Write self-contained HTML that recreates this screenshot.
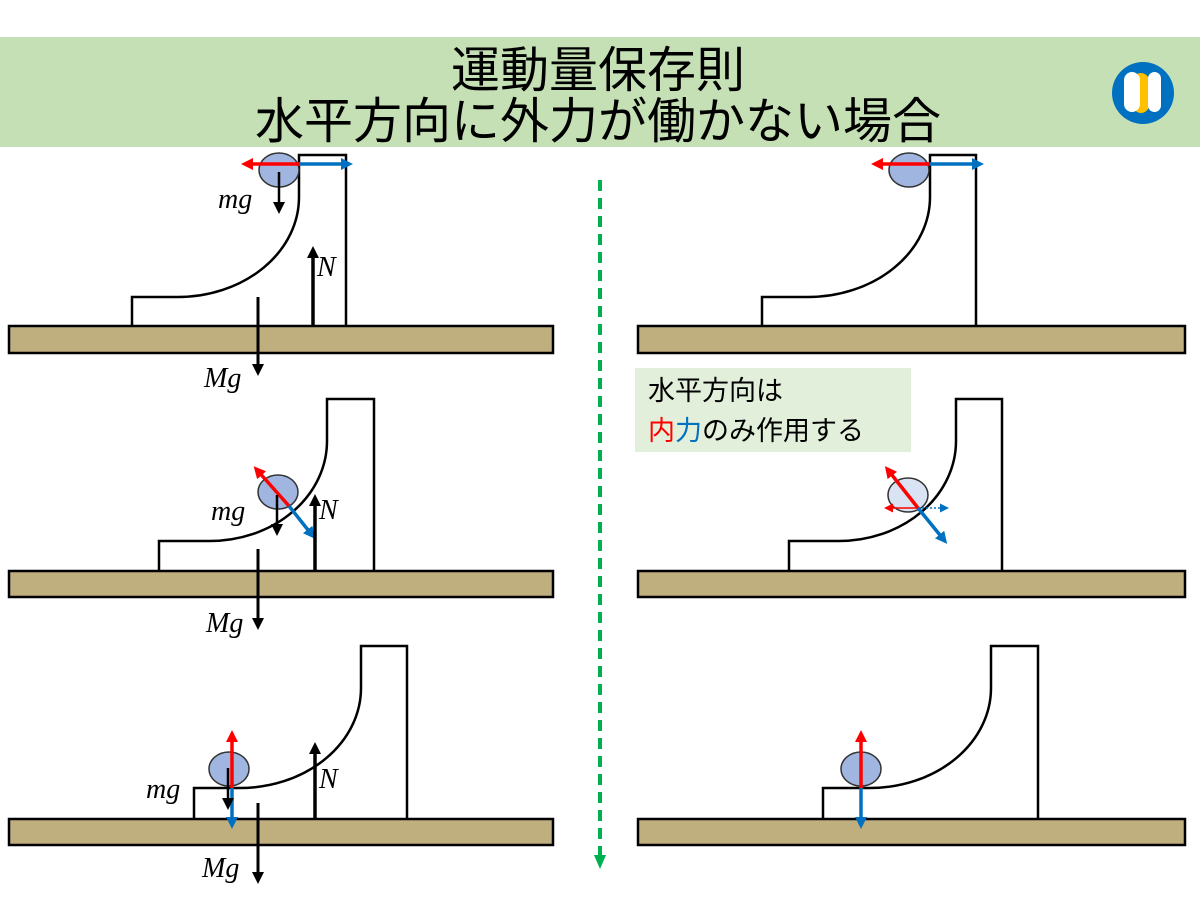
<!DOCTYPE html>
<html><head><meta charset="utf-8"><style>
html,body{margin:0;padding:0;background:#fff}
svg{display:block}
.t{font-family:"Liberation Sans","Noto Sans CJK JP",sans-serif}
.m{font-family:"Liberation Serif",serif;font-style:italic;font-size:28px}
</style></head><body>
<svg width="1200" height="900" viewBox="0 0 1200 900" xmlns="http://www.w3.org/2000/svg">
<defs>
<marker id="ak" markerWidth="12" markerHeight="12" refX="6" refY="6" orient="auto" markerUnits="userSpaceOnUse"><path d="M0,0 L12,6 L0,12 Z" fill="#000"/></marker>
<marker id="ar" markerWidth="12" markerHeight="12" refX="7" refY="6" orient="auto" markerUnits="userSpaceOnUse"><path d="M0,0 L12,6 L0,12 Z" fill="#ff0000"/></marker>
<marker id="ab" markerWidth="12" markerHeight="12" refX="7" refY="6" orient="auto" markerUnits="userSpaceOnUse"><path d="M0,0 L12,6 L0,12 Z" fill="#0070c0"/></marker>
<marker id="ars" markerWidth="9" markerHeight="9" refX="5" refY="4.5" orient="auto" markerUnits="userSpaceOnUse"><path d="M0,0 L9,4.5 L0,9 Z" fill="#ff0000"/></marker>
<marker id="abs" markerWidth="9" markerHeight="9" refX="5" refY="4.5" orient="auto" markerUnits="userSpaceOnUse"><path d="M0,0 L9,4.5 L0,9 Z" fill="#0070c0"/></marker>
<marker id="ag" markerWidth="14" markerHeight="12" refX="7" refY="6" orient="auto" markerUnits="userSpaceOnUse"><path d="M0,0 L14,6 L0,12 Z" fill="#00b050"/></marker>
</defs>
<rect x="0" y="37" width="1200" height="110" fill="#c5e0b4"/>
<text class="t" x="598" y="87" font-size="49" font-weight="normal" text-anchor="middle" fill="#000">運動量保存則</text>
<text class="t" x="598" y="138" font-size="49" font-weight="normal" text-anchor="middle" fill="#000">水平方向に外力が働かない場合</text>
<circle cx="1143" cy="93" r="31" fill="#0070c0"/>
<rect x="1133" y="73" width="16" height="40" rx="8" fill="#ffc000"/>
<rect x="1124" y="72" width="16" height="40" rx="8" fill="#fff"/>
<rect x="1148" y="72" width="13" height="40" rx="6.5" fill="#fff"/>

<g fill="#bfae7e" stroke="#000" stroke-width="2.5">
<rect x="9" y="326" width="544" height="27"/><rect x="9" y="571" width="544" height="26"/><rect x="9" y="819" width="544" height="26"/>
<rect x="638" y="326" width="547" height="27"/><rect x="638" y="571" width="547" height="26"/><rect x="638" y="819" width="547" height="26"/>
</g>
<g fill="none" stroke="#000" stroke-width="2.5">
<path d="M132,326 V297 H178 A121 100 0 0 0 299,197 V155 H346 V326"/>
<path d="M159,571 V541 H210 A117 100 0 0 0 327,441 V399 H374 V571"/>
<path d="M194,819 V788 H240 A121 100 0 0 0 361,688 V646 H407 V819"/>
<path d="M762,326 V297 H808 A122 100 0 0 0 930,197 V155 H976 V326"/>
<path d="M789,571 V541 H839 A117 100 0 0 0 956,441 V399 H1002 V571"/>
<path d="M823,819 V788 H870 A121 100 0 0 0 991,688 V646 H1038 V819"/>
</g>
<g stroke="#333" stroke-width="1.5">
<ellipse cx="279" cy="170" rx="20" ry="17" fill="#a0b6e0"/>
<ellipse cx="278" cy="492" rx="20" ry="17" fill="#a0b6e0"/>
<ellipse cx="229" cy="769" rx="20" ry="17" fill="#a0b6e0"/>
<ellipse cx="909" cy="170" rx="20" ry="17" fill="#a0b6e0"/>
<ellipse cx="908" cy="495" rx="20" ry="17" fill="#dae3f3"/>
<ellipse cx="861" cy="769" rx="20" ry="17" fill="#a0b6e0"/>
</g>
<g stroke-width="3.5" fill="none">
<line x1="299" y1="164" x2="246" y2="164" stroke="#ff0000" marker-end="url(#ar)"/>
<line x1="299" y1="164" x2="348" y2="164" stroke="#0070c0" marker-end="url(#ab)"/>
<line x1="289" y1="506" x2="257" y2="470" stroke="#ff0000" marker-end="url(#ar)"/>
<line x1="289" y1="506" x2="312" y2="535" stroke="#0070c0" marker-end="url(#ab)"/>
<line x1="232" y1="788" x2="232" y2="735" stroke="#ff0000" marker-end="url(#ar)"/>
<line x1="232" y1="788" x2="232" y2="824" stroke="#0070c0" marker-end="url(#ab)"/>
<line x1="930" y1="164" x2="876" y2="164" stroke="#ff0000" marker-end="url(#ar)"/>
<line x1="930" y1="164" x2="979" y2="164" stroke="#0070c0" marker-end="url(#ab)"/>
<line x1="918" y1="508" x2="888" y2="470" stroke="#ff0000" marker-end="url(#ar)"/>
<line x1="918" y1="508" x2="944" y2="540" stroke="#0070c0" marker-end="url(#ab)"/>
<line x1="861" y1="788" x2="861" y2="735" stroke="#ff0000" marker-end="url(#ar)"/>
<line x1="861" y1="788" x2="861" y2="824" stroke="#0070c0" marker-end="url(#ab)"/>
</g>
<line x1="918" y1="508" x2="888" y2="508" stroke="#ff0000" stroke-width="1.5" marker-end="url(#ars)"/>
<line x1="918" y1="508" x2="945" y2="508" stroke="#0070c0" stroke-width="1.5" stroke-dasharray="2 2" marker-end="url(#abs)"/>
<g stroke="#000" stroke-width="2.5">
<line x1="279" y1="172" x2="279" y2="208" marker-end="url(#ak)"/>
<line x1="313" y1="326" x2="313" y2="252" stroke-width="3.5" marker-end="url(#ak)"/>
<line x1="258" y1="297" x2="258" y2="370" stroke-width="3" marker-end="url(#ak)"/>
<line x1="277" y1="495" x2="277" y2="530" marker-end="url(#ak)"/>
<line x1="315" y1="571" x2="315" y2="500" stroke-width="3.5" marker-end="url(#ak)"/>
<line x1="258" y1="549" x2="258" y2="624" stroke-width="3" marker-end="url(#ak)"/>
<line x1="228" y1="768" x2="228" y2="804" marker-end="url(#ak)"/>
<line x1="315" y1="819" x2="315" y2="748" stroke-width="3.5" marker-end="url(#ak)"/>
<line x1="258" y1="803" x2="258" y2="878" stroke-width="3" marker-end="url(#ak)"/>
</g>
<g class="m" fill="#000">
<text x="218" y="208">mg</text><text x="317" y="276">N</text><text x="204" y="387">Mg</text>
<text x="211" y="520">mg</text><text x="319" y="519">N</text><text x="206" y="632">Mg</text>
<text x="146" y="798">mg</text><text x="319" y="788">N</text><text x="202" y="877">Mg</text>
</g>
<line x1="600" y1="180" x2="600" y2="862" stroke="#00b050" stroke-width="4" stroke-dasharray="11 7" marker-end="url(#ag)"/>
<rect x="635" y="368" width="276" height="84" fill="#e2efda"/>
<text class="t" x="648" y="400" font-size="27" fill="#000">水平方向は</text>
<text class="t" x="648" y="440" font-size="27" fill="#000"><tspan fill="#ff0000">内</tspan><tspan fill="#0070c0">力</tspan>のみ作用する</text>
</svg>
</body></html>
